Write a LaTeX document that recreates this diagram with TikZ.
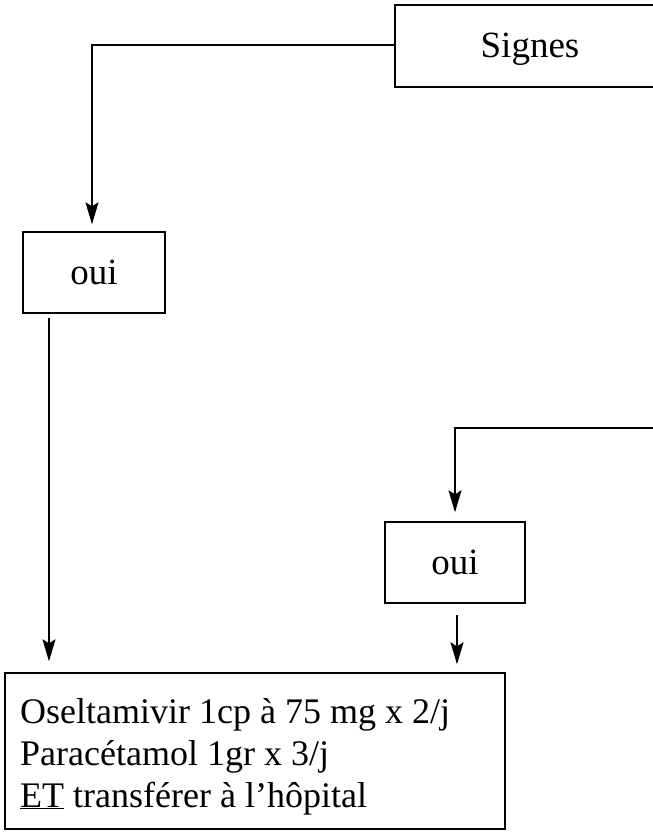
\documentclass[tikz,border=0pt]{standalone}
\usepackage{fontspec}
\setmainfont{Liberation Serif}
\usetikzlibrary{arrows.meta}
\begin{document}
\begin{tikzpicture}[x=1pt,y=-1pt,
  box/.style={draw, line width=1.4pt, inner sep=0pt},
  big/.style={font=\fontsize{37}{42}\selectfont},
  body/.style={font=\fontsize{36}{42}\selectfont, inner sep=0pt, anchor=base west},
  link/.style={line width=1.4pt},
  arr/.style={link, -{Stealth[length=22pt,width=13pt,inset=4pt]}}]
\useasboundingbox (0,0) rectangle (653,835);
\clip (0,0) rectangle (653,835);
% boxes
\node[box, minimum width=280pt, minimum height=82pt] (signes) at (535,46) {};
\node[big, anchor=base, inner sep=0pt] (signesT) at (530,57) {Signes};
\node[box, big, minimum width=142pt, minimum height=81pt] (oui1) at (94,272.5) {oui};
\node[box, big, minimum width=140pt, minimum height=81pt] (oui2) at (455,562.5) {oui};
\node[box, minimum width=500pt, minimum height=156pt] (treat) at (255,751) {};
% treatment lines
\node[body] (treatA) at (20,723) {Oseltamivir 1cp à 75 mg x 2/j};
\node[body] (treatB) at (20,765) {Paracétamol 1gr x 3/j};
\node[body] (treatC) at (20,807) {\underline{ET} transférer à l’hôpital};
\coordinate (offR) at (670,428);
% connectors
\draw[arr] (signes.west |- 0,45) -| ([yshift=7pt]oui1.north -| 92,0);
\draw[arr] (offR) -| ([yshift=9pt]oui2.north -| 455,0);
\draw[arr] ([yshift=-4pt]oui1.south -| 49,0) -- ([yshift=11pt]treat.north -| 49,0);
\draw[arr] ([yshift=-11pt]oui2.south -| 457,0) -- ([yshift=8pt]treat.north -| 457,0);
\end{tikzpicture}
\end{document}
